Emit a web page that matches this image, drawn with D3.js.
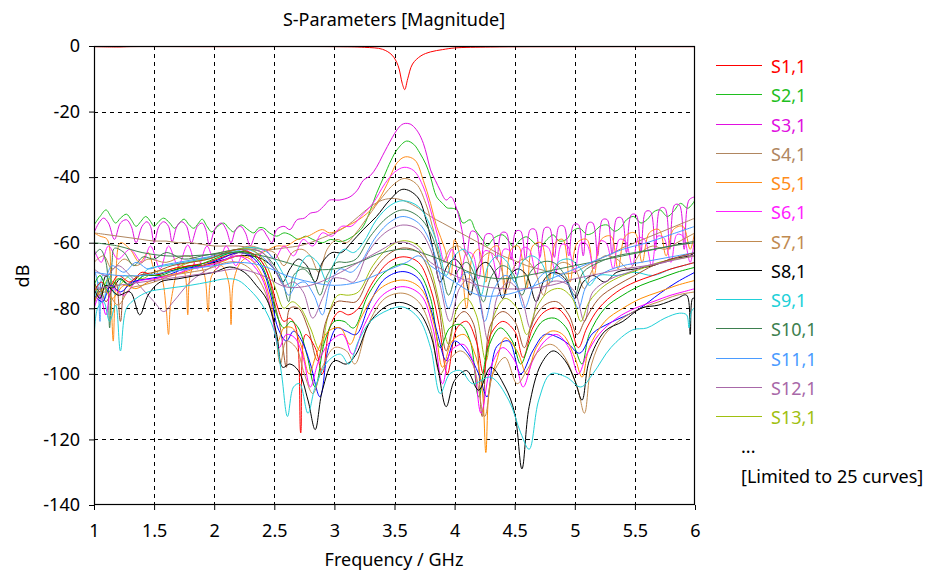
<!DOCTYPE html>
<html><head><meta charset="utf-8">
<script src="https://cdn.jsdelivr.net/npm/d3@7"></script>
<style>body{margin:0;background:#fff}svg text{font-family:"Noto Sans",sans-serif}</style>
</head><body><svg id="c" width="929" height="573"></svg>
<script>
const names = ["S1,1","S2,1","S3,1","S4,1","S5,1","S6,1","S7,1","S8,1","S9,1","S10,1","S11,1","S12,1","S13,1","S14,1","S15,1","S16,1","S17,1","S18,1","S19,1","S20,1","S21,1","S22,1","S23,1","S24,1","S25,1"];
const colors = ["#ff0000","#1fbf1f","#e010e0","#b08660","#ff8c1a","#ff20ff","#c08a50","#000000","#20d0d8","#3d7f4f","#4a9bff","#a868a8","#a0c010","#a0522d","#ff0000","#00b000","#0000ff","#ff8c00","#ff00ff","#c08a50","#000000","#20d0d8","#3d7f4f","#4a9bff","#a868a8"];
const xTicks = [1,1.5,2,2.5,3,3.5,4,4.5,5,5.5,6];
const yTicks = [0,-20,-40,-60,-80,-100,-120,-140];
const legendShown = 13;
const titleText = "S-Parameters [Magnitude]";
const xLabel = "Frequency / GHz";
const yLabel = "dB";

const s1 = [[1,-0.2],[1.2,-0.3],[1.3,-0.2],[2,-0.2],[3,-0.2],[3.25,-0.4],[3.4,-1],[3.48,-2.8],[3.53,-6],[3.565,-11.5],[3.585,-13.3],[3.61,-10],[3.65,-5.5],[3.72,-3],[3.8,-1.8],[3.9,-1.1],[4,-0.6],[4.3,-0.3],[5,-0.2],[6,-0.2]];
const s2 = [[1.0,-54.6],[1.05,-52],[1.1,-50],[1.14,-52],[1.18,-54],[1.22,-52.5],[1.27,-51.3],[1.31,-53],[1.35,-55],[1.39,-53.5],[1.43,-52],[1.47,-53.5],[1.5,-55],[1.54,-53.5],[1.58,-52.5],[1.63,-54],[1.67,-55.6],[1.71,-54],[1.75,-52.8],[1.79,-54.5],[1.83,-55.6],[1.87,-54],[1.9,-52.8],[1.94,-55],[1.98,-56.7],[2.03,-55],[2.08,-54],[2.12,-55.5],[2.16,-56.7],[2.2,-55],[2.23,-54.6],[2.28,-56],[2.33,-57],[2.37,-55.5],[2.41,-55.5],[2.46,-57],[2.52,-58],[2.58,-57],[2.63,-57.5],[2.7,-59],[2.76,-58],[2.82,-59],[2.9,-60],[2.97,-59],[3.05,-59.7],[3.13,-58.6],[3.19,-57],[3.24,-55],[3.3,-50],[3.35,-45],[3.41,-40],[3.47,-35],[3.52,-31.7],[3.6,-29],[3.66,-30],[3.71,-32.6],[3.76,-36],[3.8,-40],[3.85,-46],[3.9,-48],[3.94,-49.4],[3.98,-49.5],[4.02,-50],[4.07,-54],[4.13,-53],[4.17,-56],[4.21,-58],[4.24,-59.5],[4.27,-61],[4.33,-58.5],[4.4,-57.6],[4.45,-59.5],[4.49,-61.3],[4.55,-59],[4.6,-58.2],[4.66,-60],[4.71,-61.3],[4.77,-59],[4.82,-57.6],[4.87,-59.5],[4.93,-59],[4.98,-56.5],[5.04,-55.6],[5.1,-57.5],[5.15,-57],[5.21,-55],[5.27,-54.6],[5.33,-56.5],[5.38,-55.5],[5.43,-53],[5.49,-52],[5.55,-54],[5.6,-53],[5.66,-50.5],[5.71,-50],[5.77,-52],[5.82,-50.5],[5.88,-48],[5.94,-49.5],[6.0,-47]];
const s3 = [[1.0,-57],[1.04,-54],[1.08,-52.5],[1.12,-54],[1.17,-59],[1.22,-54],[1.27,-53],[1.31,-55],[1.35,-60],[1.4,-55],[1.44,-53.6],[1.47,-55],[1.5,-60],[1.54,-55],[1.58,-53.6],[1.62,-55],[1.65,-59.7],[1.69,-55],[1.73,-53.6],[1.77,-55],[1.81,-60],[1.86,-55],[1.9,-54],[1.93,-56],[1.96,-60.7],[2.01,-55.5],[2.06,-54],[2.1,-56],[2.14,-60],[2.18,-56],[2.22,-55],[2.26,-57],[2.3,-61],[2.35,-57],[2.4,-56],[2.44,-58],[2.48,-60],[2.52,-56],[2.58,-55],[2.63,-56],[2.69,-53],[2.75,-52.5],[2.8,-51],[2.86,-50.5],[2.92,-48.5],[2.96,-47],[3.04,-47],[3.13,-46],[3.19,-44],[3.24,-41],[3.3,-39.5],[3.35,-37],[3.4,-33.5],[3.44,-30.7],[3.48,-28],[3.52,-25.6],[3.56,-24],[3.59,-23.6],[3.63,-23.8],[3.66,-24.6],[3.7,-26.5],[3.74,-29.7],[3.77,-33.5],[3.8,-37.8],[3.84,-41],[3.88,-44],[3.93,-47],[3.97,-46],[4.02,-50],[4.06,-56],[4.1,-64],[4.14,-56.5],[4.18,-57],[4.22,-66],[4.26,-57.5],[4.31,-57.5],[4.35,-65],[4.39,-57],[4.43,-57],[4.47,-65],[4.51,-56.5],[4.55,-56.5],[4.59,-65],[4.63,-56],[4.67,-56],[4.71,-64.5],[4.75,-55.5],[4.79,-55.5],[4.83,-64.5],[4.87,-55],[4.91,-55],[4.95,-64],[4.99,-54.5],[5.03,-54.5],[5.07,-64],[5.11,-54],[5.15,-54],[5.19,-64],[5.23,-53],[5.27,-53],[5.31,-63.5],[5.35,-52.5],[5.39,-52.5],[5.43,-63],[5.47,-51.5],[5.51,-51.5],[5.55,-63],[5.59,-50.5],[5.63,-50.5],[5.67,-62.5],[5.71,-49.5],[5.75,-49.5],[5.79,-62],[5.83,-48.5],[5.87,-48.5],[5.91,-62],[5.95,-47],[6.0,-46]];
const s4 = [[1.0,-57],[1.1,-57.5],[1.2,-58],[1.3,-58.5],[1.4,-59],[1.5,-59.5],[1.6,-59.5],[1.7,-60],[1.8,-60],[1.9,-60.5],[2.0,-61],[2.1,-61],[2.2,-61],[2.3,-61.5],[2.4,-62],[2.5,-62],[2.6,-61.5],[2.7,-61],[2.8,-60],[2.9,-58.5],[3.0,-57],[3.1,-55],[3.2,-52],[3.3,-49],[3.4,-47],[3.5,-46.5],[3.6,-47.5],[3.7,-49.5],[3.8,-52],[3.9,-54],[4.0,-56],[4.1,-58],[4.2,-60],[4.3,-62],[4.4,-64],[4.5,-65.5],[4.6,-67],[4.7,-68],[4.8,-69],[4.9,-69.5],[5.0,-69],[5.1,-67],[5.2,-65],[5.3,-63.5],[5.4,-61.5],[5.5,-60],[5.6,-58.5],[5.7,-57],[5.8,-55.5],[5.9,-54],[6.0,-52.5]];
const s5 = [[1.0,-57],[1.05,-58],[1.11,-59],[1.14,-75],[1.16,-90],[1.18,-72],[1.22,-60],[1.3,-62],[1.38,-66],[1.45,-63],[1.5,-68],[1.56,-70.5],[1.6,-80],[1.62,-88],[1.64,-78],[1.72,-66],[1.76,-70],[1.78,-82],[1.8,-70],[1.86,-65],[1.92,-70],[1.95,-81],[1.98,-70],[2.06,-67],[2.12,-72],[2.14,-85],[2.16,-72],[2.22,-66],[2.3,-64],[2.4,-63],[2.52,-61],[2.6,-61],[2.69,-59],[2.78,-58],[2.9,-56],[2.96,-57],[3.1,-55],[3.24,-52],[3.35,-48],[3.44,-42],[3.52,-35.7],[3.59,-33.8],[3.67,-34.8],[3.74,-41],[3.8,-48],[3.85,-55],[3.92,-62],[3.97,-70],[4.0,-59],[4.05,-65],[4.1,-80],[4.15,-64],[4.2,-62],[4.26,-72],[4.3,-62],[4.36,-61],[4.42,-76],[4.47,-62],[4.53,-61],[4.6,-74],[4.65,-61],[4.72,-60],[4.78,-73],[4.84,-60],[4.9,-59],[4.96,-72],[5.02,-60],[5.1,-59],[5.16,-70],[5.22,-59],[5.3,-58],[5.36,-68],[5.42,-58],[5.5,-57],[5.56,-66],[5.62,-57],[5.7,-56],[5.76,-64],[5.82,-56],[5.9,-55],[5.96,-62],[6.0,-56]];
const s6 = [[1.0,-62],[1.06,-66],[1.12,-61],[1.2,-65],[1.3,-62],[1.4,-66],[1.47,-61],[1.55,-68],[1.62,-61],[1.7,-67],[1.78,-60.7],[1.86,-68],[1.94,-61],[2.02,-68],[2.1,-61],[2.18,-67],[2.26,-62],[2.34,-66],[2.42,-62],[2.5,-65],[2.58,-61],[2.66,-64],[2.74,-59],[2.82,-61],[2.9,-57],[2.98,-58],[3.06,-55],[3.14,-55],[3.22,-52],[3.32,-48],[3.42,-42],[3.5,-38.5],[3.58,-37],[3.66,-38],[3.74,-43],[3.8,-50],[3.86,-58],[3.92,-66],[3.98,-62],[4.04,-72],[4.1,-63],[4.15,-63.5],[4.2,-71],[4.25,-62.5],[4.3,-63],[4.36,-71],[4.41,-62],[4.46,-62.5],[4.52,-70],[4.57,-61.5],[4.62,-62],[4.68,-70],[4.73,-61],[4.78,-61.5],[4.84,-69],[4.89,-60.5],[4.94,-61],[5.0,-69],[5.05,-60],[5.1,-60.5],[5.16,-68],[5.21,-59.5],[5.26,-60],[5.32,-68],[5.37,-59],[5.42,-59.5],[5.48,-67],[5.53,-58.5],[5.58,-59],[5.64,-67],[5.69,-58],[5.74,-58.5],[5.8,-66],[5.85,-57.5],[5.9,-58],[5.96,-66],[6.0,-57]];
const s7 = [[1.0,-66],[1.08,-64],[1.15,-68],[1.25,-65],[1.35,-67],[1.45,-65],[1.6,-66],[1.75,-64],[1.9,-65],[2.05,-63],[2.2,-62],[2.3,-61],[2.4,-62],[2.5,-63],[2.58,-67],[2.65,-63],[2.73,-62],[2.8,-64],[2.87,-69],[2.94,-62],[3.02,-59],[3.1,-60],[3.18,-57],[3.28,-52],[3.4,-46],[3.5,-42],[3.58,-40.4],[3.68,-42],[3.76,-48],[3.83,-57],[3.9,-66],[3.96,-62],[4.03,-61],[4.1,-64],[4.16,-72],[4.22,-65],[4.3,-63],[4.37,-66],[4.44,-74],[4.5,-67],[4.58,-65],[4.66,-68],[4.74,-76],[4.8,-69],[4.9,-66],[5.0,-68],[5.08,-74],[5.15,-68],[5.25,-64],[5.35,-65],[5.45,-68],[5.55,-63],[5.65,-61],[5.75,-62],[5.85,-60],[5.95,-58],[6.0,-57]];
const s8 = [[1.0,-72],[1.05,-75],[1.1,-70],[1.15,-74],[1.22,-71],[1.3,-73],[1.38,-70],[1.5,-70],[1.6,-69],[1.7,-68],[1.8,-67],[1.9,-67],[2.0,-66],[2.1,-65],[2.2,-64],[2.3,-64],[2.4,-65],[2.5,-68],[2.57,-72],[2.63,-68],[2.7,-65],[2.77,-67],[2.84,-72],[2.9,-66],[2.98,-63],[3.06,-63],[3.14,-60],[3.24,-56],[3.35,-52],[3.46,-47],[3.57,-43.7],[3.69,-46],[3.77,-54],[3.82,-62],[3.88,-72],[3.94,-67],[4.0,-65],[4.07,-68],[4.13,-76],[4.19,-68],[4.26,-66],[4.33,-69],[4.4,-77],[4.46,-70],[4.53,-68],[4.6,-70],[4.68,-78],[4.75,-71],[4.83,-69],[4.92,-71],[5.0,-77],[5.07,-72],[5.15,-70],[5.25,-72],[5.35,-69],[5.5,-68],[5.65,-67],[5.8,-65],[5.95,-64],[6.0,-63]];
const s9 = [[1.0,-80],[1.04,-72],[1.08,-78],[1.12,-70],[1.18,-76],[1.25,-70],[1.35,-72],[1.45,-68],[1.6,-67],[1.75,-66],[1.9,-65],[2.05,-64],[2.2,-62],[2.3,-61.5],[2.4,-62],[2.5,-65],[2.58,-70],[2.64,-74],[2.7,-68],[2.78,-64],[2.86,-66],[2.94,-72],[3.0,-66],[3.08,-62],[3.16,-63],[3.24,-60],[3.35,-53],[3.47,-48.5],[3.57,-47.2],[3.7,-49],[3.8,-55],[3.87,-62],[3.93,-70],[4.0,-64],[4.08,-62],[4.15,-66],[4.22,-76],[4.28,-67],[4.36,-64],[4.44,-66],[4.5,-72],[4.56,-66],[4.64,-64],[4.72,-66],[4.8,-72],[4.86,-66],[4.95,-65],[5.05,-68],[5.12,-73],[5.2,-70],[5.35,-70],[5.5,-69],[5.65,-70],[5.8,-68],[5.9,-67],[6.0,-66]];
const s10 = [[1.0,-64],[1.05,-62],[1.1,-66],[1.13,-86],[1.15,-66],[1.17,-61.7],[1.25,-63],[1.33,-67],[1.41,-64.3],[1.5,-65],[1.6,-63],[1.75,-65],[1.9,-64],[2.05,-63],[2.2,-62],[2.3,-62],[2.4,-63],[2.5,-67],[2.57,-72],[2.62,-78],[2.66,-70],[2.74,-68],[2.82,-71],[2.88,-76],[2.94,-70],[3.02,-66],[3.1,-66],[3.18,-65],[3.3,-58],[3.45,-52],[3.57,-50],[3.7,-52],[3.8,-57],[3.88,-66],[3.95,-76],[4.02,-69],[4.1,-66],[4.17,-70],[4.24,-78],[4.31,-70],[4.4,-67],[4.48,-69],[4.56,-76],[4.63,-69],[4.72,-66],[4.82,-66],[4.92,-70],[5.0,-76],[5.07,-69],[5.2,-66],[5.35,-64],[5.5,-63],[5.65,-62],[5.8,-61],[6.0,-60]];
const s11 = [[1.0,-68],[1.03,-72],[1.05,-84],[1.07,-70],[1.1,-70],[1.15,-67],[1.25,-69],[1.35,-66],[1.45,-68],[1.55,-67],[1.7,-66],[1.85,-65],[2.0,-64],[2.15,-63],[2.25,-62],[2.35,-63],[2.45,-66],[2.55,-71],[2.62,-76],[2.68,-73],[2.75,-72],[2.83,-76],[2.9,-82],[2.97,-72],[3.05,-68],[3.14,-69],[3.22,-66],[3.35,-58],[3.47,-53.5],[3.57,-52],[3.7,-54],[3.8,-60],[3.88,-70],[3.95,-80],[4.03,-72],[4.1,-69],[4.18,-73],[4.25,-84],[4.33,-74],[4.42,-70],[4.5,-72],[4.58,-80],[4.66,-73],[4.76,-69],[4.86,-70],[4.95,-73],[5.03,-80],[5.1,-73],[5.25,-69],[5.4,-67],[5.55,-66],[5.7,-65],[5.85,-64],[6.0,-63]];
const s12 = [[1.0,-68],[1.1,-70],[1.2,-67],[1.3,-70],[1.4,-74],[1.5,-78],[1.58,-81],[1.66,-78],[1.8,-72],[1.95,-68],[2.1,-65],[2.2,-63],[2.3,-62],[2.4,-63],[2.5,-68],[2.58,-73],[2.66,-72],[2.74,-75],[2.82,-83],[2.9,-77],[2.98,-71],[3.08,-71],[3.16,-72],[3.28,-63],[3.42,-57],[3.57,-54.6],[3.7,-56],[3.8,-62],[3.88,-73],[3.96,-84],[4.04,-74],[4.12,-71],[4.2,-76],[4.28,-90],[4.36,-76],[4.45,-72],[4.55,-76],[4.63,-86],[4.7,-76],[4.8,-72],[4.9,-72],[5.0,-75],[5.08,-84],[5.15,-75],[5.3,-71],[5.45,-69],[5.6,-67],[5.75,-66],[5.9,-64],[6.0,-64]];
const s13 = [[1.0,-72],[1.05,-76],[1.12,-71],[1.2,-73],[1.3,-70],[1.4,-71],[1.5,-69],[1.65,-68],[1.8,-66],[1.95,-65],[2.1,-63],[2.2,-62],[2.3,-62],[2.38,-64],[2.45,-68],[2.52,-75],[2.58,-80],[2.65,-78],[2.72,-80],[2.8,-86],[2.88,-93],[2.95,-82],[3.03,-76],[3.12,-76],[3.2,-75],[3.32,-67],[3.45,-61.5],[3.57,-59.4],[3.7,-61],[3.8,-68],[3.87,-78],[3.95,-91],[4.02,-80],[4.1,-77],[4.18,-82],[4.26,-96],[4.33,-82],[4.42,-77],[4.52,-80],[4.6,-88],[4.68,-80],[4.78,-75],[4.88,-74],[4.98,-77],[5.05,-84],[5.12,-78],[5.25,-73],[5.4,-70],[5.55,-68],[5.7,-66],[5.85,-65],[6.0,-64]];
const s14 = [[1.0,-79],[1.05,-74],[1.1,-78],[1.18,-72],[1.22,-84],[1.26,-74],[1.38,-70],[1.5,-69],[1.65,-67],[1.8,-66],[1.95,-65],[2.1,-63],[2.2,-62],[2.3,-63],[2.38,-65],[2.45,-70],[2.5,-78],[2.55,-86],[2.6,-98],[2.63,-80],[2.7,-80],[2.78,-86],[2.86,-96],[2.93,-84],[3.02,-78],[3.1,-78],[3.18,-78],[3.3,-70],[3.45,-63.5],[3.57,-61.6],[3.7,-63],[3.8,-70],[3.87,-80],[3.93,-93],[4.0,-84],[4.08,-81],[4.16,-85],[4.23,-113],[4.3,-85],[4.4,-81],[4.5,-84],[4.58,-92],[4.65,-84],[4.75,-79],[4.85,-78],[4.95,-82],[5.02,-88],[5.08,-84],[5.2,-77],[5.35,-73],[5.5,-70],[5.65,-67],[5.8,-65],[6.0,-63]];
const s15 = [[1.0,-75],[1.06,-72],[1.12,-74],[1.2,-70],[1.3,-72],[1.4,-69],[1.5,-70],[1.65,-68],[1.8,-67],[1.95,-66],[2.1,-64],[2.2,-63],[2.3,-63],[2.4,-66],[2.47,-72],[2.53,-80],[2.58,-84],[2.63,-83],[2.68,-86],[2.72,-118],[2.76,-88],[2.84,-92],[2.9,-100],[2.96,-86],[3.04,-81],[3.12,-82],[3.2,-80],[3.32,-72],[3.45,-66],[3.57,-64.3],[3.7,-66],[3.8,-74],[3.87,-85],[3.94,-100],[4.02,-86],[4.1,-84],[4.18,-90],[4.24,-100],[4.3,-88],[4.4,-84],[4.5,-87],[4.57,-95],[4.65,-86],[4.75,-81],[4.85,-80],[4.95,-84],[5.03,-92],[5.1,-86],[5.2,-80],[5.35,-75],[5.5,-72],[5.65,-70],[5.8,-68],[5.9,-67],[6.0,-66]];
const s16 = [[1.0,-73],[1.05,-70],[1.12,-75],[1.2,-71],[1.3,-73],[1.42,-70],[1.55,-70],[1.7,-68],[1.85,-67],[2.0,-65],[2.15,-63],[2.28,-63],[2.38,-66],[2.46,-73],[2.52,-82],[2.58,-86],[2.64,-84],[2.7,-86],[2.77,-94],[2.84,-104],[2.92,-90],[3.0,-84],[3.08,-84],[3.16,-86],[3.28,-76],[3.42,-69],[3.57,-66.5],[3.7,-69],[3.8,-77],[3.88,-92],[3.96,-86],[4.05,-85],[4.13,-90],[4.2,-107],[4.28,-92],[4.38,-86],[4.48,-90],[4.55,-97],[4.63,-90],[4.73,-84],[4.83,-83],[4.93,-86],[5.0,-92],[5.06,-97],[5.12,-88],[5.25,-80],[5.4,-76],[5.55,-73],[5.7,-71],[5.85,-69],[6.0,-67.5]];
const s17 = [[1.0,-76],[1.07,-78],[1.14,-73],[1.22,-75],[1.32,-72],[1.45,-71],[1.6,-70],[1.75,-68],[1.9,-67],[2.05,-65],[2.2,-63],[2.3,-64],[2.4,-68],[2.47,-76],[2.53,-86],[2.6,-90],[2.66,-87],[2.73,-90],[2.8,-97],[2.88,-107],[2.95,-92],[3.02,-86],[3.1,-87],[3.18,-88],[3.3,-78],[3.42,-71],[3.57,-68.8],[3.7,-71],[3.8,-80],[3.86,-88],[3.93,-96],[4.0,-90],[4.11,-93.7],[4.2,-100],[4.27,-107],[4.35,-91.7],[4.45,-90],[4.55,-100],[4.65,-93],[4.75,-88],[4.85,-88.7],[4.95,-91],[5.04,-93.7],[5.15,-87.6],[5.29,-84.5],[5.52,-80.5],[5.71,-75.4],[5.85,-72],[6.0,-69]];
const s18 = [[1.0,-78],[1.08,-74],[1.15,-77],[1.25,-73],[1.35,-74],[1.45,-72],[1.6,-70],[1.75,-69],[1.9,-67],[2.05,-66],[2.2,-64],[2.3,-65],[2.4,-70],[2.47,-78],[2.53,-90],[2.58,-86],[2.65,-86],[2.72,-91],[2.79,-100],[2.85,-94],[2.95,-87],[3.05,-86],[3.13,-91],[3.22,-83],[3.38,-74],[3.57,-71.4],[3.72,-74],[3.83,-85],[3.9,-98],[3.98,-90],[4.08,-88],[4.17,-94],[4.23,-105],[4.26,-124],[4.29,-104],[4.35,-96],[4.42,-89],[4.52,-93],[4.6,-100],[4.68,-92],[4.8,-87],[4.9,-88],[5.0,-95],[5.06,-101],[5.12,-92],[5.25,-84],[5.4,-80],[5.55,-77],[5.7,-75],[5.85,-73],[6.0,-71.5]];
const s19 = [[1.0,-80],[1.05,-76],[1.1,-82],[1.15,-74],[1.25,-76],[1.35,-72],[1.5,-71],[1.65,-70],[1.8,-68],[1.95,-67],[2.1,-65],[2.2,-64],[2.3,-66],[2.4,-71],[2.48,-82],[2.54,-92],[2.6,-88],[2.67,-89],[2.74,-95],[2.8,-104],[2.87,-96],[2.97,-90],[3.07,-88],[3.15,-94],[3.25,-85],[3.4,-76],[3.57,-73.4],[3.72,-76],[3.82,-86],[3.9,-103],[3.97,-93],[4.07,-91],[4.15,-96],[4.22,-112],[4.3,-98],[4.4,-92],[4.5,-96],[4.57,-104],[4.65,-96],[4.75,-90],[4.85,-88],[4.95,-92],[5.03,-100],[5.1,-94],[5.2,-88],[5.35,-83],[5.5,-80],[5.65,-78],[5.8,-76],[5.9,-75],[6.0,-74]];
const s20 = [[1.0,-77],[1.1,-75],[1.2,-79],[1.3,-74],[1.4,-73],[1.5,-72],[1.65,-70],[1.8,-69],[1.95,-68],[2.1,-66],[2.2,-66],[2.3,-68],[2.4,-73],[2.5,-85],[2.55,-97],[2.6,-90],[2.68,-92],[2.75,-100],[2.82,-106],[2.9,-98],[3.0,-92],[3.1,-93],[3.17,-97],[3.28,-85],[3.42,-77],[3.57,-75.4],[3.7,-78],[3.8,-86],[3.88,-100],[3.95,-96],[4.05,-93],[4.15,-97],[4.25,-113],[4.32,-100],[4.42,-95],[4.52,-103],[4.6,-99],[4.7,-93],[4.8,-91],[4.9,-94],[5.02,-104],[5.08,-112],[5.14,-97],[5.25,-88],[5.4,-83],[5.55,-80],[5.7,-78],[5.85,-76],[6.0,-75]];
const s21 = [[1.0,-74],[1.05,-77],[1.1,-73],[1.2,-76],[1.3,-75],[1.38,-82],[1.45,-76],[1.55,-72],[1.7,-71],[1.85,-70],[2.0,-69],[2.13,-67.4],[2.25,-69],[2.35,-73],[2.44,-77.5],[2.52,-88],[2.57,-98],[2.63,-97],[2.7,-99],[2.78,-108],[2.84,-117],[2.9,-105],[3.0,-96],[3.1,-97],[3.18,-94],[3.3,-84],[3.45,-79],[3.57,-78.3],[3.7,-81],[3.8,-88],[3.86,-98],[3.93,-110],[4.0,-102],[4.1,-99],[4.2,-105],[4.3,-98],[4.42,-104],[4.5,-112],[4.56,-129],[4.62,-110],[4.72,-97],[4.82,-93],[4.92,-96],[5.0,-102],[5.06,-108],[5.12,-96],[5.25,-87],[5.4,-84],[5.55,-80],[5.7,-79],[5.85,-77],[5.93,-76],[5.96,-88],[5.98,-77],[6.0,-77]];
const s22 = [[1.0,-90],[1.03,-80],[1.08,-78],[1.13,-84],[1.18,-79],[1.22,-93],[1.27,-80],[1.35,-77],[1.45,-75],[1.6,-74],[1.8,-73],[1.95,-72],[2.1,-71],[2.2,-71.5],[2.3,-74.5],[2.4,-79],[2.5,-87],[2.56,-100],[2.61,-113],[2.66,-104],[2.71,-103],[2.78,-112],[2.84,-104],[2.95,-96],[3.05,-94],[3.12,-97],[3.2,-90],[3.3,-84],[3.45,-80.5],[3.57,-79.6],[3.7,-83],[3.8,-92],[3.88,-106],[3.96,-100],[4.05,-99],[4.15,-103],[4.3,-101],[4.45,-108],[4.55,-118],[4.62,-123],[4.7,-108],[4.8,-100],[4.93,-101],[5.05,-104],[5.15,-100],[5.3,-92],[5.48,-86.6],[5.6,-86],[5.75,-83],[5.87,-81.5],[5.93,-82],[5.95,-86],[5.97,-81],[6.0,-79.6]];
const s23 = [[1.0,-60],[1.2,-61],[1.4,-63],[1.6,-64],[1.8,-64],[2.0,-63.5],[2.2,-63],[2.4,-64],[2.6,-66],[2.8,-68],[3.0,-68],[3.2,-66],[3.4,-63],[3.6,-62],[3.8,-64],[4.0,-67],[4.2,-70],[4.4,-71],[4.6,-70],[4.8,-68.5],[5.0,-67],[5.2,-65.5],[5.4,-64],[5.6,-62.5],[5.8,-61],[6.0,-59.5]];
const s24 = [[1.0,-69],[1.2,-70],[1.4,-70],[1.6,-69],[1.8,-68],[2.0,-67],[2.2,-66],[2.4,-67],[2.6,-70],[2.8,-72],[3.0,-73],[3.2,-72],[3.4,-69],[3.6,-66],[3.7,-64],[3.8,-67],[4.0,-72],[4.2,-76],[4.4,-76],[4.6,-74],[4.8,-71],[5.0,-68],[5.2,-65],[5.4,-62],[5.6,-60],[5.8,-57.5],[6.0,-55]];
const s25 = [[1.0,-74],[1.2,-73],[1.4,-72],[1.6,-71],[1.8,-70],[2.0,-69],[2.2,-68],[2.4,-70],[2.6,-73.5],[2.8,-73],[3.0,-70],[3.2,-66],[3.4,-62],[3.5,-60],[3.6,-60],[3.7,-62],[3.8,-66],[4.0,-70],[4.2,-73],[4.4,-74],[4.6,-74],[4.8,-73],[5.0,-71],[5.2,-69.5],[5.4,-68],[5.6,-67],[5.8,-65.5],[6.0,-64]];
const series = [s1,s2,s3,s4,s5,s6,s7,s8,s9,s10,s11,s12,s13,s14,s15,s16,s17,s18,s19,s20,s21,s22,s23,s24,s25];

const svg = d3.select("#c");
const L = 94, R = 695, T = 46, B = 505;
const x = d3.scaleLinear().domain([1, 6]).range([L, R]);
const y = d3.scaleLinear().domain([-140, 0]).range([B, T]);
const FS = 18;

svg.append("defs").append("clipPath").attr("id","clip")
  .append("rect").attr("x", L).attr("y", T - 1).attr("width", R - L).attr("height", B - T + 1);

// grid
const grid = svg.append("g").attr("stroke", "#000").attr("stroke-width", 1).attr("stroke-dasharray", "4,4").attr("shape-rendering","crispEdges");
grid.selectAll("line.v").data(xTicks.filter(d => d > 1 && d < 6)).join("line")
  .attr("x1", d => Math.round(x(d)) + 0.5).attr("x2", d => Math.round(x(d)) + 0.5).attr("y1", T).attr("y2", B);
grid.selectAll("line.h").data(yTicks.filter(d => d < 0 && d > -140)).join("line")
  .attr("y1", d => Math.round(y(d)) + 0.5).attr("y2", d => Math.round(y(d)) + 0.5).attr("x1", L).attr("x2", R);

// curves
const line = d3.line().x(d => x(d[0])).y(d => y(d[1])).curve(d3.curveCatmullRom.alpha(0.5));
const cg = svg.append("g").attr("clip-path", "url(#clip)");
const order = d3.range(series.length).slice(1).concat([0]);
cg.selectAll("path").data(order).join("path")
  .attr("d", i => line(series[i])).attr("fill", "none")
  .attr("stroke", i => colors[i]).attr("stroke-width", 1);

// frame
svg.append("rect").attr("x", L + 0.5).attr("y", T + 0.5).attr("width", R - L - 1).attr("height", B - T - 1)
  .attr("fill", "none").attr("stroke", "#000").attr("stroke-width", 1.2);

// axes
const ax = svg.append("g").attr("transform", `translate(0,${B})`)
  .call(d3.axisBottom(x).tickValues(xTicks).tickSize(5).tickPadding(14).tickFormat(d => String(d)));
const ay = svg.append("g").attr("transform", `translate(${L},0)`)
  .call(d3.axisLeft(y).tickValues(yTicks).tickSize(5).tickPadding(9).tickFormat(d => String(d)));
[ax, ay].forEach(g => {
  g.select(".domain").remove();
  g.attr("font-family", null).attr("font-size", null);
  g.selectAll("line").attr("stroke", "#000");
  g.selectAll("text").attr("font-size", FS).attr("fill", "#000");
});

// titles
svg.append("text").attr("x", 394).attr("y", 26).attr("text-anchor", "middle").attr("font-size", FS).text(titleText);
svg.append("text").attr("x", 394).attr("y", 566).attr("text-anchor", "middle").attr("font-size", FS).text(xLabel);
svg.append("text").attr("transform", "translate(29,276) rotate(-90)").attr("text-anchor", "middle").attr("font-size", FS).text(yLabel);

// legend
const lg = svg.append("g");
const rows = d3.range(legendShown);
const rowY = i => Math.round(65 + i * 29.25) + 0.5;
lg.selectAll("line").data(rows).join("line")
  .attr("x1", 716).attr("x2", 762).attr("y1", rowY).attr("y2", rowY)
  .attr("stroke", i => colors[i]).attr("stroke-width", 1.2);
lg.selectAll("text").data(rows).join("text")
  .attr("x", 771).attr("y", i => rowY(i) + 7.5).attr("font-size", FS)
  .attr("fill", i => colors[i]).text(i => names[i]);
svg.append("text").attr("x", 741).attr("y", 453).attr("font-size", FS).text("...");
svg.append("text").attr("x", 741).attr("y", 483).attr("font-size", FS).text("[Limited to " + series.length + " curves]");
</script></body></html>
